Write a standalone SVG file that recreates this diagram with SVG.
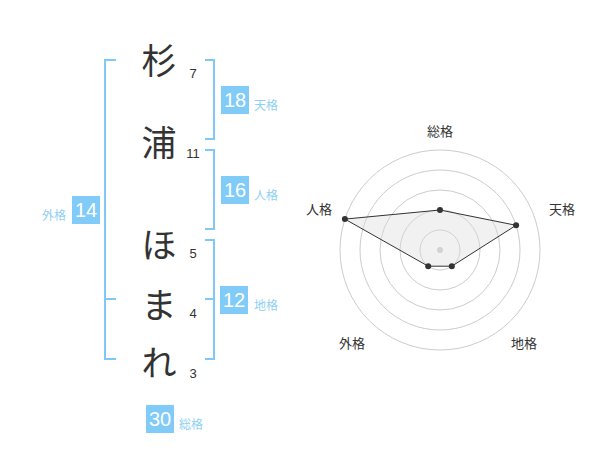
<svg xmlns="http://www.w3.org/2000/svg" width="600" height="470" viewBox="0 0 600 470">
<style>
.ch{font-family:"Noto Sans CJK JP","Noto Sans CJK SC",sans-serif;font-size:35px;fill:#333;text-anchor:middle;dominant-baseline:central}
.num{font-family:"Liberation Sans",Arial,sans-serif;font-size:13px;fill:#333;text-anchor:middle;dominant-baseline:central}
.br{fill:none;stroke:#80c9f7;stroke-width:2}
.box{fill:#80cbf8}
.bt{font-family:"Liberation Sans",Arial,sans-serif;font-size:20px;fill:#fff;text-anchor:middle;dominant-baseline:central}
.lb{font-family:"Noto Sans CJK JP","Noto Sans CJK SC",sans-serif;font-size:12px;fill:#8fd0f4;dominant-baseline:central}
.rl{font-family:"Noto Sans CJK JP","Noto Sans CJK SC",sans-serif;font-size:13px;fill:#333;text-anchor:middle;dominant-baseline:central}
.ring{fill:none;stroke:#ccc;stroke-width:1}
.pt{fill:#333}
</style>
<rect width="600" height="470" fill="#fff"/>
<g id="chars">
<text class="ch" x="159" y="58">杉</text>
<text class="ch" x="159" y="140">浦</text>
<text class="ch" x="159" y="242">ほ</text>
<text class="ch" x="159" y="302">ま</text>
<text class="ch" x="159" y="360">れ</text>
<text class="num" x="193" y="73">7</text>
<text class="num" x="193" y="153">11</text>
<text class="num" x="193" y="253">5</text>
<text class="num" x="193" y="313">4</text>
<text class="num" x="193" y="373">3</text>
</g>
<g id="connectors">
<path class="br" d="M116,60 H105 V359 H116 M105,299 H116"/>
<path class="br" d="M205,60 H214 V139 H205"/>
<path class="br" d="M205,150 H214 V229 H205"/>
<path class="br" d="M205,240 H214 V359 H205 M214,299 H205"/>
</g>
<g id="tenkaku">
<rect class="box" x="221" y="86" width="28" height="28"/>
<text class="bt" x="235" y="100">18</text>
<text class="lb" x="254" y="104">天格</text>
</g>
<g id="jinkaku">
<rect class="box" x="221" y="176" width="28" height="28"/>
<text class="bt" x="235" y="190">16</text>
<text class="lb" x="254" y="194">人格</text>
</g>
<g id="gaikaku">
<rect class="box" x="72" y="196" width="28" height="28"/>
<text class="bt" x="86" y="210">14</text>
<text class="lb" x="66" y="214" text-anchor="end">外格</text>
</g>
<g id="chikaku">
<rect class="box" x="220" y="286" width="28" height="28"/>
<text class="bt" x="234" y="300">12</text>
<text class="lb" x="254" y="304">地格</text>
</g>
<g id="soukaku">
<rect class="box" x="146" y="405" width="28" height="28"/>
<text class="bt" x="160" y="419">30</text>
<text class="lb" x="179" y="423">総格</text>
</g>
<g id="radar">
<circle class="ring" cx="440" cy="250" r="20"/>
<circle class="ring" cx="440" cy="250" r="40"/>
<circle class="ring" cx="440" cy="250" r="60"/>
<circle class="ring" cx="440" cy="250" r="80"/>
<circle class="ring" cx="440" cy="250" r="100"/>
<circle cx="440" cy="250" r="3" fill="#ccc"/>
<polygon points="440,210 516.1,225.3 451.8,266.2 428.2,266.2 344.9,219.1" fill="rgba(220,220,220,0.4)" stroke="#333" stroke-width="1"/>
<circle class="pt" cx="440" cy="210" r="3"/>
<circle class="pt" cx="516.1" cy="225.3" r="3"/>
<circle class="pt" cx="451.8" cy="266.2" r="3"/>
<circle class="pt" cx="428.2" cy="266.2" r="3"/>
<circle class="pt" cx="344.9" cy="219.1" r="3"/>
<text class="rl" x="440" y="130">総格</text>
<text class="rl" x="562" y="208">天格</text>
<text class="rl" x="524" y="342">地格</text>
<text class="rl" x="352" y="342">外格</text>
<text class="rl" x="319" y="208">人格</text>
</g>
</svg>
